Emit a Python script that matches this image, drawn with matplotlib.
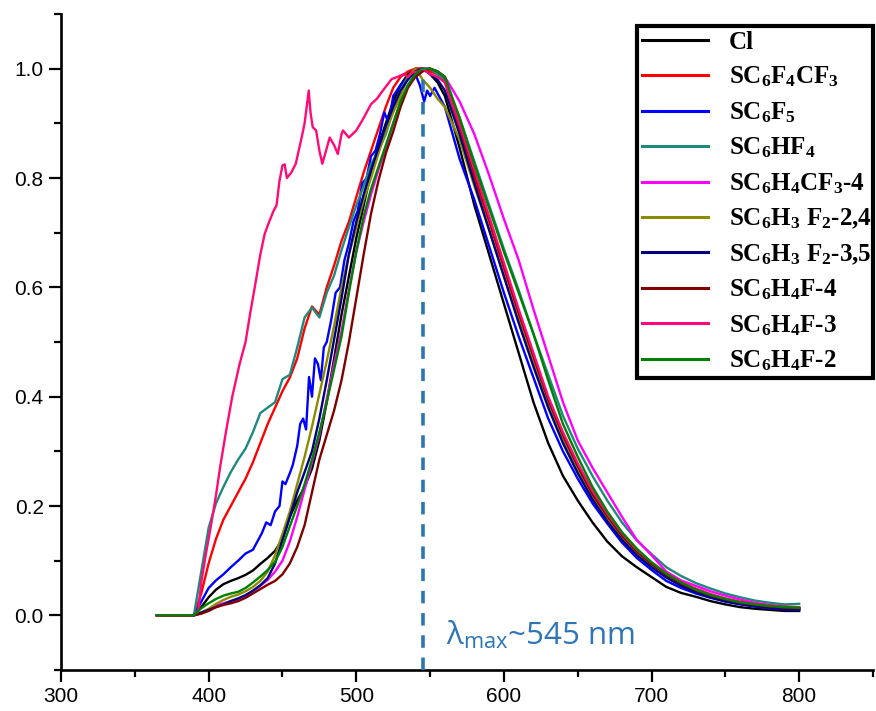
import numpy as np
import matplotlib
matplotlib.use("Agg")
import matplotlib.pyplot as plt
from matplotlib.ticker import MultipleLocator, FormatStrFormatter
from matplotlib.font_manager import FontProperties

plt.rcParams['mathtext.fontset'] = 'custom'
plt.rcParams['mathtext.rm'] = 'Liberation Serif:bold'
plt.rcParams['mathtext.it'] = 'Liberation Serif:italic:bold'
plt.rcParams['mathtext.bf'] = 'Liberation Serif:bold'
plt.rcParams['mathtext.sf'] = 'Open Sans'
plt.rcParams['lines.scale_dashes'] = False

# wavelength grid (nm): flat start, 5 nm steps over the rise, 10 nm over the tail
wl = np.concatenate(([365], np.arange(390, 556, 5), np.arange(560, 801, 10)))

cl = [0, 0, 0.015, 0.033, 0.047, 0.057, 0.063, 0.068, 0.074, 0.082,
      0.094, 0.105, 0.118, 0.14, 0.18, 0.21, 0.235, 0.268, 0.32, 0.39,
      0.47, 0.55, 0.62, 0.69, 0.75, 0.81, 0.86, 0.9, 0.94, 0.97,
      0.99, 1.0, 1.0, 0.99, 0.975,
      0.95, 0.855, 0.75, 0.66, 0.57, 0.48, 0.39, 0.315, 0.255, 0.21,
      0.17, 0.135, 0.108, 0.088, 0.07, 0.052, 0.041, 0.034, 0.026, 0.02,
      0.015, 0.012, 0.01, 0.008, 0.008]

c6f4cf3 = [0, 0, 0.04, 0.095, 0.14, 0.175, 0.2, 0.225, 0.25, 0.28,
           0.315, 0.35, 0.38, 0.41, 0.435, 0.47, 0.525, 0.565, 0.55, 0.6,
           0.64, 0.685, 0.72, 0.765, 0.81, 0.85, 0.89, 0.93, 0.965, 0.985,
           0.995, 1.0, 1.0, 0.995, 0.99,
           0.975, 0.89, 0.80, 0.72, 0.635, 0.55, 0.47, 0.39, 0.325, 0.27,
           0.22, 0.18, 0.145, 0.117, 0.094, 0.074, 0.058, 0.046, 0.036, 0.029,
           0.023, 0.019, 0.016, 0.014, 0.012]

wl_c6f5 = [365, 390, 395, 400, 405, 410, 415, 420, 425, 430, 433, 436, 439, 442,
           445, 448, 450, 452, 455, 457, 460, 462, 464, 466, 468, 470, 472, 474,
           476, 478, 480, 483, 486, 489, 492, 495, 498, 501, 504, 507, 510, 513,
           516, 519, 522, 525, 530, 535, 540, 543, 546, 548, 550, 553, 556,
           560, 570, 580, 590, 600, 610, 620, 630, 640, 650, 660, 670, 680,
           690, 700, 710, 720, 730, 740, 750, 760, 770, 780, 790, 800]
c6f5 = [0, 0, 0.025, 0.05, 0.064, 0.075, 0.088, 0.1, 0.113, 0.12, 0.135, 0.15, 0.17, 0.165,
        0.19, 0.2, 0.245, 0.24, 0.26, 0.275, 0.31, 0.35, 0.36, 0.34, 0.436, 0.40, 0.47, 0.46,
        0.43, 0.49, 0.5, 0.54, 0.59, 0.6, 0.65, 0.68, 0.72, 0.74, 0.79, 0.80, 0.84, 0.85,
        0.88, 0.92, 0.90, 0.95, 0.97, 0.985, 0.99, 0.97, 0.94, 0.96, 0.95, 0.965, 0.95,
        0.93, 0.835, 0.76, 0.675, 0.59, 0.51, 0.435, 0.36, 0.3, 0.25, 0.205, 0.168, 0.133,
        0.105, 0.083, 0.063, 0.05, 0.04, 0.032, 0.025, 0.02, 0.016, 0.013, 0.011, 0.01]

c6hf4 = [0, 0, 0.08, 0.16, 0.205, 0.235, 0.262, 0.285, 0.305, 0.335,
         0.37, 0.38, 0.39, 0.432, 0.44, 0.49, 0.545, 0.563, 0.545, 0.59,
         0.622, 0.668, 0.71, 0.75, 0.785, 0.825, 0.85, 0.88, 0.925, 0.96,
         0.985, 0.995, 1.0, 1.0, 0.99,
         0.98, 0.91, 0.83, 0.75, 0.67, 0.595, 0.515, 0.44, 0.365, 0.305,
         0.255, 0.21, 0.17, 0.137, 0.112, 0.088, 0.072, 0.059, 0.049, 0.04,
         0.033, 0.027, 0.023, 0.02, 0.021]

c6h4cf3_4 = [0, 0, 0.004, 0.01, 0.018, 0.022, 0.026, 0.03, 0.035, 0.045,
             0.054, 0.065, 0.08, 0.1, 0.135, 0.18, 0.23, 0.28, 0.33, 0.395,
             0.46, 0.52, 0.595, 0.665, 0.72, 0.77, 0.815, 0.855, 0.9, 0.94,
             0.97, 0.99, 1.0, 1.0, 0.995,
             0.985, 0.94, 0.88, 0.805, 0.725, 0.65, 0.56, 0.475, 0.39, 0.32,
             0.27, 0.225, 0.18, 0.138, 0.11, 0.08, 0.064, 0.054, 0.044, 0.036,
             0.029, 0.023, 0.019, 0.016, 0.014]

c6h3f2_24 = [0, 0, 0.005, 0.012, 0.021, 0.028, 0.034, 0.038, 0.044, 0.052,
             0.063, 0.08, 0.11, 0.149, 0.19, 0.24, 0.29, 0.345, 0.405, 0.465,
             0.53, 0.6, 0.66, 0.71, 0.76, 0.8, 0.845, 0.885, 0.92, 0.95,
             0.985, 1.0, 0.98, 0.965, 0.945,
             0.93, 0.87, 0.785, 0.705, 0.62, 0.54, 0.46, 0.385, 0.32, 0.265,
             0.215, 0.175, 0.14, 0.113, 0.09, 0.071, 0.056, 0.044, 0.035, 0.028,
             0.022, 0.018, 0.015, 0.013, 0.012]

c6h3f2_35 = [0, 0, 0.005, 0.01, 0.015, 0.02, 0.026, 0.031, 0.037, 0.045,
             0.055, 0.068, 0.095, 0.137, 0.18, 0.225, 0.262, 0.3, 0.36, 0.43,
             0.505, 0.58, 0.66, 0.72, 0.77, 0.815, 0.855, 0.895, 0.93, 0.96,
             0.98, 0.995, 1.0, 0.99, 0.98,
             0.96, 0.88, 0.79, 0.705, 0.62, 0.535, 0.455, 0.38, 0.315, 0.26,
             0.212, 0.172, 0.138, 0.11, 0.088, 0.069, 0.054, 0.042, 0.033, 0.026,
             0.021, 0.017, 0.014, 0.012, 0.011]

c6h4f_4 = [0, 0, 0.003, 0.008, 0.015, 0.019, 0.022, 0.026, 0.032, 0.04,
           0.048, 0.056, 0.063, 0.075, 0.095, 0.125, 0.165, 0.225, 0.285, 0.33,
           0.375, 0.43, 0.5, 0.58, 0.66, 0.735, 0.795, 0.845, 0.885, 0.93,
           0.965, 0.985, 0.995, 1.0, 0.995,
           0.985, 0.9, 0.81, 0.725, 0.64, 0.555, 0.475, 0.395, 0.33, 0.273,
           0.222, 0.182, 0.146, 0.117, 0.094, 0.074, 0.058, 0.046, 0.036, 0.029,
           0.023, 0.019, 0.016, 0.014, 0.013]

wl_c6h4f_3 = [365, 390, 393, 395, 398, 401, 405, 408, 412, 416, 421, 425, 428, 432,
              435, 438, 441, 444, 446, 448, 450, 451.5, 453, 456, 459, 461, 463, 465,
              467.8, 469, 470.5, 472.8, 475, 477, 479, 482, 485, 487.5, 490, 491, 495,
              500, 504, 510, 514, 518, 524, 528, 532, 535, 538, 542, 545, 550, 555,
              560, 570, 580, 590, 600, 610, 620, 630, 640, 650, 660, 670, 680,
              690, 700, 710, 720, 730, 740, 750, 760, 770, 780, 790, 800]
c6h4f_3 = [0, 0, 0.01, 0.06, 0.11, 0.155, 0.22, 0.275, 0.34, 0.4, 0.46, 0.5, 0.55, 0.612,
           0.66, 0.698, 0.72, 0.74, 0.75, 0.795, 0.823, 0.825, 0.80, 0.81, 0.826, 0.85, 0.874, 0.9,
           0.96, 0.92, 0.893, 0.887, 0.85, 0.826, 0.845, 0.874, 0.86, 0.844, 0.88, 0.887, 0.874,
           0.887, 0.905, 0.935, 0.945, 0.96, 0.981, 0.985, 0.99, 0.985, 0.993, 0.995, 1.0, 0.99, 0.985,
           0.975, 0.9, 0.815, 0.73, 0.645, 0.56, 0.48, 0.4, 0.335, 0.278, 0.228, 0.186, 0.15,
           0.12, 0.097, 0.077, 0.061, 0.049, 0.039, 0.031, 0.025, 0.021, 0.018, 0.016, 0.015]

c6h4f_2 = [0, 0, 0.013, 0.022, 0.03, 0.036, 0.04, 0.043, 0.05, 0.06,
           0.071, 0.083, 0.098, 0.125, 0.163, 0.2, 0.24, 0.285, 0.335, 0.39,
           0.45, 0.51, 0.59, 0.665, 0.73, 0.78, 0.82, 0.86, 0.9, 0.94,
           0.97, 0.99, 1.0, 1.0, 0.995,
           0.985, 0.91, 0.825, 0.745, 0.665, 0.59, 0.515, 0.43, 0.35, 0.29,
           0.235, 0.19, 0.152, 0.122, 0.097, 0.076, 0.06, 0.047, 0.037, 0.03,
           0.024, 0.02, 0.017, 0.015, 0.014]

labels = ['Cl',
          r'$\mathrm{SC_6F_4CF_3}$',
          r'$\mathrm{SC_6F_5}$',
          r'$\mathrm{SC_6HF_4}$',
          r'$\mathrm{SC_6H_4CF_3}$-4',
          r'$\mathrm{SC_6H_3\ F_2}$-2,4',
          r'$\mathrm{SC_6H_3\ F_2}$-3,5',
          r'$\mathrm{SC_6H_4F}$-4',
          r'$\mathrm{SC_6H_4F}$-3',
          r'$\mathrm{SC_6H_4F}$-2']
colors = ['#000000', '#ff0000', '#0000ff', '#1e8a7c', '#ff00ff',
          '#8c8c00', '#000080', '#800000', '#ff0a78', '#008000']
series = [(wl, cl), (wl, c6f4cf3), (wl_c6f5, c6f5), (wl, c6hf4), (wl, c6h4cf3_4),
          (wl, c6h3f2_24), (wl, c6h3f2_35), (wl, c6h4f_4), (wl_c6h4f_3, c6h4f_3),
          (wl, c6h4f_2)]

lambda_max = 545

fig = plt.figure(figsize=(8.76, 7.11), dpi=100)
ax = fig.add_axes([61 / 876, 41 / 711, 812 / 876, 656 / 711])

for (x, y), lab, col in zip(series, labels, colors):
    ax.plot(x, y, color=col, lw=1.7, label=lab)

ax.plot([lambda_max, lambda_max], [-0.1, 1.0], color='#2e75b6', lw=2.6,
        dashes=(9, 7), zorder=5)
ax.text(560.5, -0.037, 'λ$_{\\mathsf{max}}$~%d nm' % lambda_max,
        fontfamily='Open Sans', fontsize=22.5, color='#2e75b6', va='center')

ax.set_xlim(300, 850)
ax.set_ylim(-0.1, 1.1)
ax.xaxis.set_major_locator(MultipleLocator(100))
ax.xaxis.set_minor_locator(MultipleLocator(50))
ax.yaxis.set_major_locator(MultipleLocator(0.2))
ax.yaxis.set_minor_locator(MultipleLocator(0.1))
ax.yaxis.set_major_formatter(FormatStrFormatter('%.1f'))
for s in ('top', 'right'):
    ax.spines[s].set_visible(False)
for s in ('left', 'bottom'):
    ax.spines[s].set_linewidth(1.9)
ax.tick_params(which='major', direction='out', length=8.5, width=1.6,
               labelsize=15, pad=4)
ax.tick_params(which='minor', direction='out', length=5, width=1.6)
for lbl in ax.get_xticklabels() + ax.get_yticklabels():
    lbl.set_fontfamily('Liberation Sans')

leg_box = (637 / 876, (711 - 378) / 711, 236 / 876, 352 / 711)
leg = ax.legend(loc='upper left', bbox_to_anchor=leg_box, mode='expand',
                bbox_transform=fig.transFigure, borderaxespad=0,
                prop=FontProperties(family='Liberation Serif', weight='bold', size=18),
                handlelength=2.64, handletextpad=0.83, labelspacing=0.436,
                borderpad=0.2, fancybox=False, framealpha=1)
leg.get_frame().set_edgecolor('black')
leg.get_frame().set_linewidth(3)
for h in leg.get_lines():
    h.set_linewidth(2.2)

fig.savefig('out.png', dpi=100)
